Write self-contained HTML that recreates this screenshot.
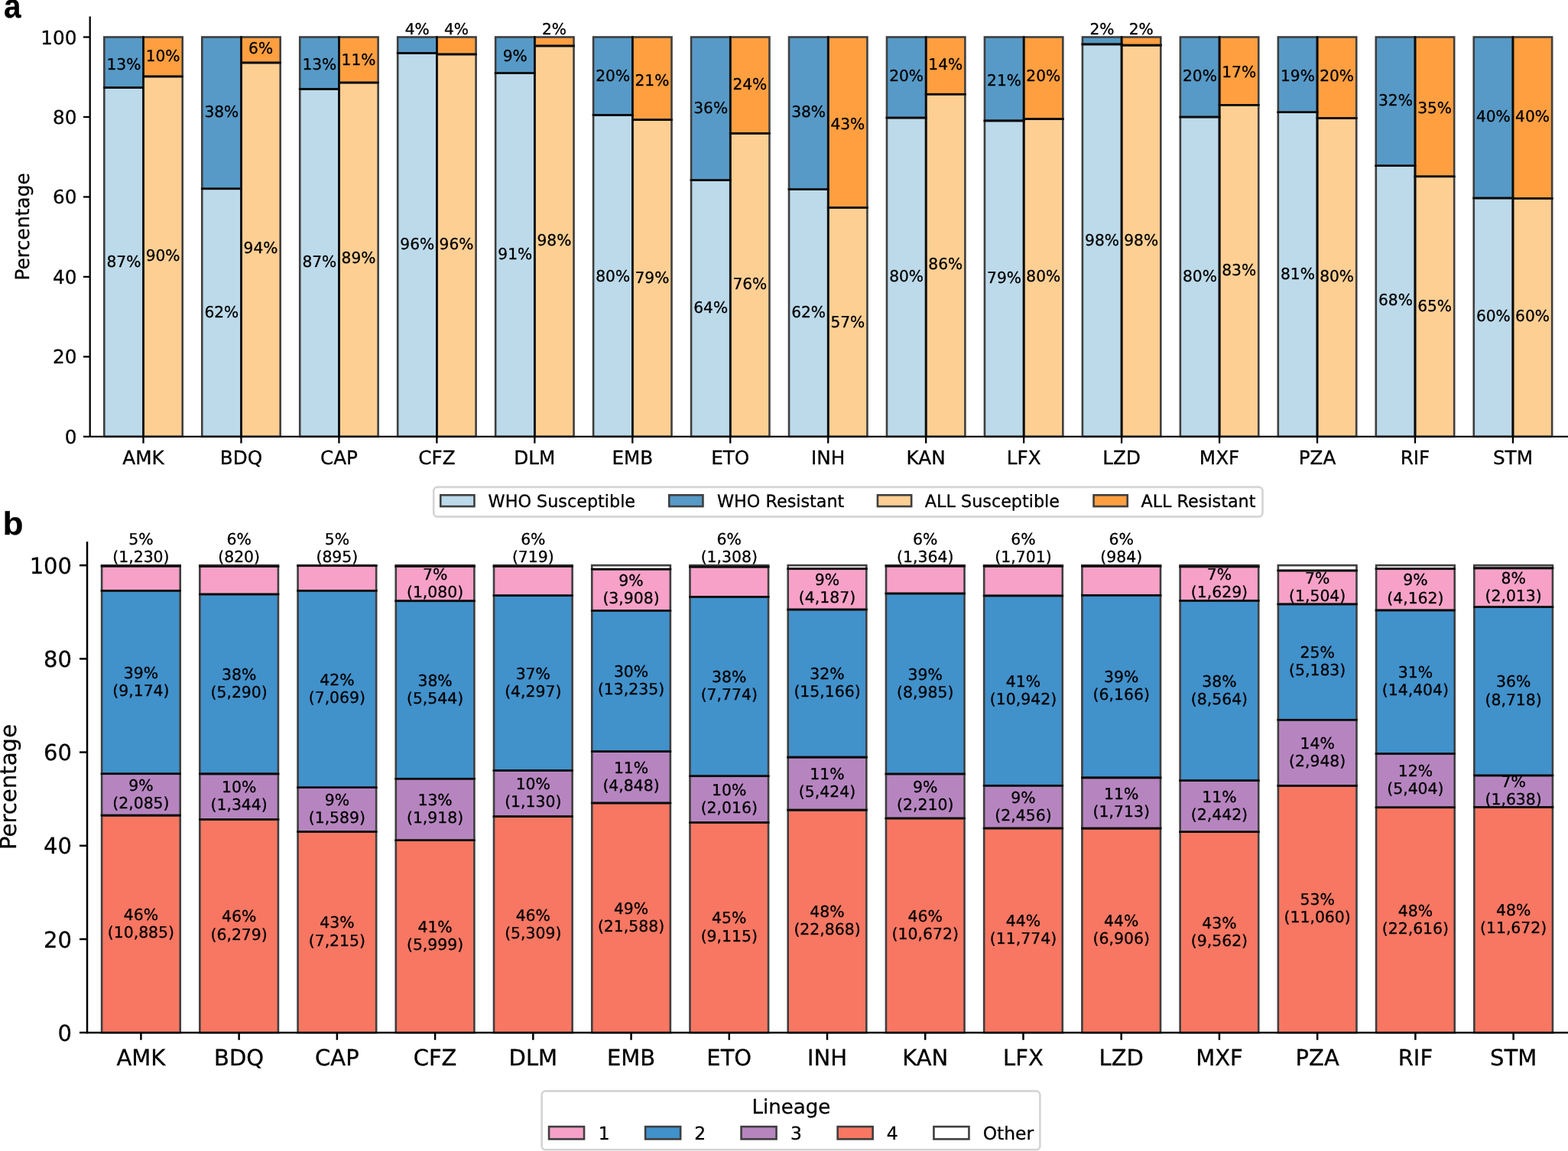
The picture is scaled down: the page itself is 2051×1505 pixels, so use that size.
<!DOCTYPE html>
<html><head><meta charset="utf-8"><title>Figure</title>
<style>html,body{margin:0;padding:0;background:#fff;width:2051px;height:1505px;overflow:hidden}svg{display:block}text{font-family:'DejaVu Sans','Liberation Sans',sans-serif;text-rendering:geometricPrecision;stroke:#000;stroke-width:0.3px}</style>
</head><body><svg xmlns="http://www.w3.org/2000/svg" width="2051" height="1505" viewBox="0 0 2051 1505"><g><rect x="136.3" y="114.58" width="51.2" height="456.32" fill="#bcdaea"/><rect x="136.3" y="48.5" width="51.2" height="66.08" fill="#579ac7"/><rect x="187.5" y="99.96" width="51.2" height="470.94" fill="#fecf93"/><rect x="187.5" y="48.5" width="51.2" height="51.46" fill="#ff9f40"/><rect x="264.26" y="246.8" width="51.2" height="324.1" fill="#bcdaea"/><rect x="264.26" y="48.5" width="51.2" height="198.3" fill="#579ac7"/><rect x="315.46" y="81.99" width="51.2" height="488.91" fill="#fecf93"/><rect x="315.46" y="48.5" width="51.2" height="33.49" fill="#ff9f40"/><rect x="392.22" y="116.41" width="51.2" height="454.49" fill="#bcdaea"/><rect x="392.22" y="48.5" width="51.2" height="67.91" fill="#579ac7"/><rect x="443.42" y="108.05" width="51.2" height="462.85" fill="#fecf93"/><rect x="443.42" y="48.5" width="51.2" height="59.55" fill="#ff9f40"/><rect x="520.18" y="69.4" width="51.2" height="501.5" fill="#bcdaea"/><rect x="520.18" y="48.5" width="51.2" height="20.9" fill="#579ac7"/><rect x="571.38" y="70.96" width="51.2" height="499.94" fill="#fecf93"/><rect x="571.38" y="48.5" width="51.2" height="22.46" fill="#ff9f40"/><rect x="648.14" y="95.52" width="51.2" height="475.38" fill="#bcdaea"/><rect x="648.14" y="48.5" width="51.2" height="47.02" fill="#579ac7"/><rect x="699.34" y="59.99" width="51.2" height="510.91" fill="#fecf93"/><rect x="699.34" y="48.5" width="51.2" height="11.49" fill="#ff9f40"/><rect x="776.1" y="150.37" width="51.2" height="420.53" fill="#bcdaea"/><rect x="776.1" y="48.5" width="51.2" height="101.87" fill="#579ac7"/><rect x="827.3" y="156.64" width="51.2" height="414.26" fill="#fecf93"/><rect x="827.3" y="48.5" width="51.2" height="108.14" fill="#ff9f40"/><rect x="904.06" y="235.52" width="51.2" height="335.38" fill="#bcdaea"/><rect x="904.06" y="48.5" width="51.2" height="187.02" fill="#579ac7"/><rect x="955.26" y="174.4" width="51.2" height="396.5" fill="#fecf93"/><rect x="955.26" y="48.5" width="51.2" height="125.9" fill="#ff9f40"/><rect x="1032.02" y="247.53" width="51.2" height="323.37" fill="#bcdaea"/><rect x="1032.02" y="48.5" width="51.2" height="199.03" fill="#579ac7"/><rect x="1083.22" y="271.56" width="51.2" height="299.34" fill="#fecf93"/><rect x="1083.22" y="48.5" width="51.2" height="223.06" fill="#ff9f40"/><rect x="1159.98" y="154.02" width="51.2" height="416.88" fill="#bcdaea"/><rect x="1159.98" y="48.5" width="51.2" height="105.52" fill="#579ac7"/><rect x="1211.18" y="123.2" width="51.2" height="447.7" fill="#fecf93"/><rect x="1211.18" y="48.5" width="51.2" height="74.7" fill="#ff9f40"/><rect x="1287.94" y="157.89" width="51.2" height="413.01" fill="#bcdaea"/><rect x="1287.94" y="48.5" width="51.2" height="109.39" fill="#579ac7"/><rect x="1339.14" y="155.59" width="51.2" height="415.31" fill="#fecf93"/><rect x="1339.14" y="48.5" width="51.2" height="107.09" fill="#ff9f40"/><rect x="1415.9" y="57.9" width="51.2" height="513" fill="#bcdaea"/><rect x="1415.9" y="48.5" width="51.2" height="9.4" fill="#579ac7"/><rect x="1467.1" y="59.16" width="51.2" height="511.74" fill="#fecf93"/><rect x="1467.1" y="48.5" width="51.2" height="10.66" fill="#ff9f40"/><rect x="1543.86" y="152.98" width="51.2" height="417.92" fill="#bcdaea"/><rect x="1543.86" y="48.5" width="51.2" height="104.48" fill="#579ac7"/><rect x="1595.06" y="137.31" width="51.2" height="433.59" fill="#fecf93"/><rect x="1595.06" y="48.5" width="51.2" height="88.81" fill="#ff9f40"/><rect x="1671.82" y="146.71" width="51.2" height="424.19" fill="#bcdaea"/><rect x="1671.82" y="48.5" width="51.2" height="98.21" fill="#579ac7"/><rect x="1723.02" y="154.55" width="51.2" height="416.35" fill="#fecf93"/><rect x="1723.02" y="48.5" width="51.2" height="106.05" fill="#ff9f40"/><rect x="1799.78" y="216.71" width="51.2" height="354.19" fill="#bcdaea"/><rect x="1799.78" y="48.5" width="51.2" height="168.21" fill="#579ac7"/><rect x="1850.98" y="230.82" width="51.2" height="340.08" fill="#fecf93"/><rect x="1850.98" y="48.5" width="51.2" height="182.32" fill="#ff9f40"/><rect x="1927.74" y="259.03" width="51.2" height="311.87" fill="#bcdaea"/><rect x="1927.74" y="48.5" width="51.2" height="210.53" fill="#579ac7"/><rect x="1978.94" y="259.55" width="51.2" height="311.35" fill="#fecf93"/><rect x="1978.94" y="48.5" width="51.2" height="211.05" fill="#ff9f40"/></g><g fill="none" stroke="#3f3f3f" stroke-width="2.6"><rect x="136.3" y="114.58" width="51.2" height="456.32"/><rect x="136.3" y="48.5" width="51.2" height="66.08"/><rect x="187.5" y="99.96" width="51.2" height="470.94"/><rect x="187.5" y="48.5" width="51.2" height="51.46"/><rect x="264.26" y="246.8" width="51.2" height="324.1"/><rect x="264.26" y="48.5" width="51.2" height="198.3"/><rect x="315.46" y="81.99" width="51.2" height="488.91"/><rect x="315.46" y="48.5" width="51.2" height="33.49"/><rect x="392.22" y="116.41" width="51.2" height="454.49"/><rect x="392.22" y="48.5" width="51.2" height="67.91"/><rect x="443.42" y="108.05" width="51.2" height="462.85"/><rect x="443.42" y="48.5" width="51.2" height="59.55"/><rect x="520.18" y="69.4" width="51.2" height="501.5"/><rect x="520.18" y="48.5" width="51.2" height="20.9"/><rect x="571.38" y="70.96" width="51.2" height="499.94"/><rect x="571.38" y="48.5" width="51.2" height="22.46"/><rect x="648.14" y="95.52" width="51.2" height="475.38"/><rect x="648.14" y="48.5" width="51.2" height="47.02"/><rect x="699.34" y="59.99" width="51.2" height="510.91"/><rect x="699.34" y="48.5" width="51.2" height="11.49"/><rect x="776.1" y="150.37" width="51.2" height="420.53"/><rect x="776.1" y="48.5" width="51.2" height="101.87"/><rect x="827.3" y="156.64" width="51.2" height="414.26"/><rect x="827.3" y="48.5" width="51.2" height="108.14"/><rect x="904.06" y="235.52" width="51.2" height="335.38"/><rect x="904.06" y="48.5" width="51.2" height="187.02"/><rect x="955.26" y="174.4" width="51.2" height="396.5"/><rect x="955.26" y="48.5" width="51.2" height="125.9"/><rect x="1032.02" y="247.53" width="51.2" height="323.37"/><rect x="1032.02" y="48.5" width="51.2" height="199.03"/><rect x="1083.22" y="271.56" width="51.2" height="299.34"/><rect x="1083.22" y="48.5" width="51.2" height="223.06"/><rect x="1159.98" y="154.02" width="51.2" height="416.88"/><rect x="1159.98" y="48.5" width="51.2" height="105.52"/><rect x="1211.18" y="123.2" width="51.2" height="447.7"/><rect x="1211.18" y="48.5" width="51.2" height="74.7"/><rect x="1287.94" y="157.89" width="51.2" height="413.01"/><rect x="1287.94" y="48.5" width="51.2" height="109.39"/><rect x="1339.14" y="155.59" width="51.2" height="415.31"/><rect x="1339.14" y="48.5" width="51.2" height="107.09"/><rect x="1415.9" y="57.9" width="51.2" height="513"/><rect x="1415.9" y="48.5" width="51.2" height="9.4"/><rect x="1467.1" y="59.16" width="51.2" height="511.74"/><rect x="1467.1" y="48.5" width="51.2" height="10.66"/><rect x="1543.86" y="152.98" width="51.2" height="417.92"/><rect x="1543.86" y="48.5" width="51.2" height="104.48"/><rect x="1595.06" y="137.31" width="51.2" height="433.59"/><rect x="1595.06" y="48.5" width="51.2" height="88.81"/><rect x="1671.82" y="146.71" width="51.2" height="424.19"/><rect x="1671.82" y="48.5" width="51.2" height="98.21"/><rect x="1723.02" y="154.55" width="51.2" height="416.35"/><rect x="1723.02" y="48.5" width="51.2" height="106.05"/><rect x="1799.78" y="216.71" width="51.2" height="354.19"/><rect x="1799.78" y="48.5" width="51.2" height="168.21"/><rect x="1850.98" y="230.82" width="51.2" height="340.08"/><rect x="1850.98" y="48.5" width="51.2" height="182.32"/><rect x="1927.74" y="259.03" width="51.2" height="311.87"/><rect x="1927.74" y="48.5" width="51.2" height="210.53"/><rect x="1978.94" y="259.55" width="51.2" height="311.35"/><rect x="1978.94" y="48.5" width="51.2" height="211.05"/></g><g stroke="#0b0b0b" stroke-width="2.6" stroke-linecap="square"><line x1="187.5" y1="48.5" x2="187.5" y2="570.9"/><line x1="136.3" y1="114.58" x2="187.5" y2="114.58"/><line x1="187.5" y1="99.96" x2="238.7" y2="99.96"/><line x1="315.46" y1="48.5" x2="315.46" y2="570.9"/><line x1="264.26" y1="246.8" x2="315.46" y2="246.8"/><line x1="315.46" y1="81.99" x2="366.66" y2="81.99"/><line x1="443.42" y1="48.5" x2="443.42" y2="570.9"/><line x1="392.22" y1="116.41" x2="443.42" y2="116.41"/><line x1="443.42" y1="108.05" x2="494.62" y2="108.05"/><line x1="571.38" y1="48.5" x2="571.38" y2="570.9"/><line x1="520.18" y1="69.4" x2="571.38" y2="69.4"/><line x1="571.38" y1="70.96" x2="622.58" y2="70.96"/><line x1="699.34" y1="48.5" x2="699.34" y2="570.9"/><line x1="648.14" y1="95.52" x2="699.34" y2="95.52"/><line x1="699.34" y1="59.99" x2="750.54" y2="59.99"/><line x1="827.3" y1="48.5" x2="827.3" y2="570.9"/><line x1="776.1" y1="150.37" x2="827.3" y2="150.37"/><line x1="827.3" y1="156.64" x2="878.5" y2="156.64"/><line x1="955.26" y1="48.5" x2="955.26" y2="570.9"/><line x1="904.06" y1="235.52" x2="955.26" y2="235.52"/><line x1="955.26" y1="174.4" x2="1006.46" y2="174.4"/><line x1="1083.22" y1="48.5" x2="1083.22" y2="570.9"/><line x1="1032.02" y1="247.53" x2="1083.22" y2="247.53"/><line x1="1083.22" y1="271.56" x2="1134.42" y2="271.56"/><line x1="1211.18" y1="48.5" x2="1211.18" y2="570.9"/><line x1="1159.98" y1="154.02" x2="1211.18" y2="154.02"/><line x1="1211.18" y1="123.2" x2="1262.38" y2="123.2"/><line x1="1339.14" y1="48.5" x2="1339.14" y2="570.9"/><line x1="1287.94" y1="157.89" x2="1339.14" y2="157.89"/><line x1="1339.14" y1="155.59" x2="1390.34" y2="155.59"/><line x1="1467.1" y1="48.5" x2="1467.1" y2="570.9"/><line x1="1415.9" y1="57.9" x2="1467.1" y2="57.9"/><line x1="1467.1" y1="59.16" x2="1518.3" y2="59.16"/><line x1="1595.06" y1="48.5" x2="1595.06" y2="570.9"/><line x1="1543.86" y1="152.98" x2="1595.06" y2="152.98"/><line x1="1595.06" y1="137.31" x2="1646.26" y2="137.31"/><line x1="1723.02" y1="48.5" x2="1723.02" y2="570.9"/><line x1="1671.82" y1="146.71" x2="1723.02" y2="146.71"/><line x1="1723.02" y1="154.55" x2="1774.22" y2="154.55"/><line x1="1850.98" y1="48.5" x2="1850.98" y2="570.9"/><line x1="1799.78" y1="216.71" x2="1850.98" y2="216.71"/><line x1="1850.98" y1="230.82" x2="1902.18" y2="230.82"/><line x1="1978.94" y1="48.5" x2="1978.94" y2="570.9"/><line x1="1927.74" y1="259.03" x2="1978.94" y2="259.03"/><line x1="1978.94" y1="259.55" x2="2030.14" y2="259.55"/></g><g font-family="'DejaVu Sans','Liberation Sans',sans-serif" fill="#000"><text x="161.9" y="349.26" font-size="20.2" text-anchor="middle">87%</text><text x="161.9" y="90.67" font-size="20.2" text-anchor="middle">13%</text><text x="213.1" y="341.42" font-size="20.2" text-anchor="middle">90%</text><text x="213.1" y="80.22" font-size="20.2" text-anchor="middle">10%</text><text x="289.86" y="414.56" font-size="20.2" text-anchor="middle">62%</text><text x="289.86" y="153.36" font-size="20.2" text-anchor="middle">38%</text><text x="341.06" y="330.97" font-size="20.2" text-anchor="middle">94%</text><text x="341.06" y="69.77" font-size="20.2" text-anchor="middle">6%</text><text x="417.82" y="349.26" font-size="20.2" text-anchor="middle">87%</text><text x="417.82" y="90.67" font-size="20.2" text-anchor="middle">13%</text><text x="469.02" y="344.03" font-size="20.2" text-anchor="middle">89%</text><text x="469.02" y="85.44" font-size="20.2" text-anchor="middle">11%</text><text x="545.78" y="325.75" font-size="20.2" text-anchor="middle">96%</text><text x="545.78" y="44.6" font-size="20.2" text-anchor="middle">4%</text><text x="596.98" y="325.75" font-size="20.2" text-anchor="middle">96%</text><text x="596.98" y="44.6" font-size="20.2" text-anchor="middle">4%</text><text x="673.74" y="338.81" font-size="20.2" text-anchor="middle">91%</text><text x="673.74" y="80.22" font-size="20.2" text-anchor="middle">9%</text><text x="724.94" y="320.52" font-size="20.2" text-anchor="middle">98%</text><text x="724.94" y="44.6" font-size="20.2" text-anchor="middle">2%</text><text x="801.7" y="367.54" font-size="20.2" text-anchor="middle">80%</text><text x="801.7" y="106.34" font-size="20.2" text-anchor="middle">20%</text><text x="852.9" y="370.15" font-size="20.2" text-anchor="middle">79%</text><text x="852.9" y="111.56" font-size="20.2" text-anchor="middle">21%</text><text x="929.66" y="409.33" font-size="20.2" text-anchor="middle">64%</text><text x="929.66" y="148.13" font-size="20.2" text-anchor="middle">36%</text><text x="980.86" y="377.99" font-size="20.2" text-anchor="middle">76%</text><text x="980.86" y="116.79" font-size="20.2" text-anchor="middle">24%</text><text x="1057.62" y="414.56" font-size="20.2" text-anchor="middle">62%</text><text x="1057.62" y="153.36" font-size="20.2" text-anchor="middle">38%</text><text x="1108.82" y="427.62" font-size="20.2" text-anchor="middle">57%</text><text x="1108.82" y="169.03" font-size="20.2" text-anchor="middle">43%</text><text x="1185.58" y="367.54" font-size="20.2" text-anchor="middle">80%</text><text x="1185.58" y="106.34" font-size="20.2" text-anchor="middle">20%</text><text x="1236.78" y="351.87" font-size="20.2" text-anchor="middle">86%</text><text x="1236.78" y="90.67" font-size="20.2" text-anchor="middle">14%</text><text x="1313.54" y="370.15" font-size="20.2" text-anchor="middle">79%</text><text x="1313.54" y="111.56" font-size="20.2" text-anchor="middle">21%</text><text x="1364.74" y="367.54" font-size="20.2" text-anchor="middle">80%</text><text x="1364.74" y="106.34" font-size="20.2" text-anchor="middle">20%</text><text x="1441.5" y="320.52" font-size="20.2" text-anchor="middle">98%</text><text x="1441.5" y="44.6" font-size="20.2" text-anchor="middle">2%</text><text x="1492.7" y="320.52" font-size="20.2" text-anchor="middle">98%</text><text x="1492.7" y="44.6" font-size="20.2" text-anchor="middle">2%</text><text x="1569.46" y="367.54" font-size="20.2" text-anchor="middle">80%</text><text x="1569.46" y="106.34" font-size="20.2" text-anchor="middle">20%</text><text x="1620.66" y="359.7" font-size="20.2" text-anchor="middle">83%</text><text x="1620.66" y="101.12" font-size="20.2" text-anchor="middle">17%</text><text x="1697.42" y="364.93" font-size="20.2" text-anchor="middle">81%</text><text x="1697.42" y="106.34" font-size="20.2" text-anchor="middle">19%</text><text x="1748.62" y="367.54" font-size="20.2" text-anchor="middle">80%</text><text x="1748.62" y="106.34" font-size="20.2" text-anchor="middle">20%</text><text x="1825.38" y="398.88" font-size="20.2" text-anchor="middle">68%</text><text x="1825.38" y="137.68" font-size="20.2" text-anchor="middle">32%</text><text x="1876.58" y="406.72" font-size="20.2" text-anchor="middle">65%</text><text x="1876.58" y="148.13" font-size="20.2" text-anchor="middle">35%</text><text x="1953.34" y="419.78" font-size="20.2" text-anchor="middle">60%</text><text x="1953.34" y="158.58" font-size="20.2" text-anchor="middle">40%</text><text x="2004.54" y="419.78" font-size="20.2" text-anchor="middle">60%</text><text x="2004.54" y="158.58" font-size="20.2" text-anchor="middle">40%</text></g><g font-family="'DejaVu Sans','Liberation Sans',sans-serif" fill="#000"><line x1="117.7" y1="21.5" x2="117.7" y2="571.9" stroke="#000" stroke-width="2.3"/><line x1="116.7" y1="570.9" x2="2051" y2="570.9" stroke="#000" stroke-width="2.3"/><line x1="108.95" y1="570.9" x2="117.7" y2="570.9" stroke="#000" stroke-width="2.3"/><text x="100.4" y="579.9" font-size="24.7" text-anchor="end">0</text><line x1="108.95" y1="466.42" x2="117.7" y2="466.42" stroke="#000" stroke-width="2.3"/><text x="100.4" y="475.42" font-size="24.7" text-anchor="end">20</text><line x1="108.95" y1="361.94" x2="117.7" y2="361.94" stroke="#000" stroke-width="2.3"/><text x="100.4" y="370.94" font-size="24.7" text-anchor="end">40</text><line x1="108.95" y1="257.46" x2="117.7" y2="257.46" stroke="#000" stroke-width="2.3"/><text x="100.4" y="266.46" font-size="24.7" text-anchor="end">60</text><line x1="108.95" y1="152.98" x2="117.7" y2="152.98" stroke="#000" stroke-width="2.3"/><text x="100.4" y="161.98" font-size="24.7" text-anchor="end">80</text><line x1="108.95" y1="48.5" x2="117.7" y2="48.5" stroke="#000" stroke-width="2.3"/><text x="100.4" y="57.5" font-size="24.7" text-anchor="end">100</text><line x1="187.5" y1="570.9" x2="187.5" y2="579.65" stroke="#000" stroke-width="2.3"/><text x="187.5" y="606.8" font-size="24.7" text-anchor="middle">AMK</text><line x1="315.46" y1="570.9" x2="315.46" y2="579.65" stroke="#000" stroke-width="2.3"/><text x="315.46" y="606.8" font-size="24.7" text-anchor="middle">BDQ</text><line x1="443.42" y1="570.9" x2="443.42" y2="579.65" stroke="#000" stroke-width="2.3"/><text x="443.42" y="606.8" font-size="24.7" text-anchor="middle">CAP</text><line x1="571.38" y1="570.9" x2="571.38" y2="579.65" stroke="#000" stroke-width="2.3"/><text x="571.38" y="606.8" font-size="24.7" text-anchor="middle">CFZ</text><line x1="699.34" y1="570.9" x2="699.34" y2="579.65" stroke="#000" stroke-width="2.3"/><text x="699.34" y="606.8" font-size="24.7" text-anchor="middle">DLM</text><line x1="827.3" y1="570.9" x2="827.3" y2="579.65" stroke="#000" stroke-width="2.3"/><text x="827.3" y="606.8" font-size="24.7" text-anchor="middle">EMB</text><line x1="955.26" y1="570.9" x2="955.26" y2="579.65" stroke="#000" stroke-width="2.3"/><text x="955.26" y="606.8" font-size="24.7" text-anchor="middle">ETO</text><line x1="1083.22" y1="570.9" x2="1083.22" y2="579.65" stroke="#000" stroke-width="2.3"/><text x="1083.22" y="606.8" font-size="24.7" text-anchor="middle">INH</text><line x1="1211.18" y1="570.9" x2="1211.18" y2="579.65" stroke="#000" stroke-width="2.3"/><text x="1211.18" y="606.8" font-size="24.7" text-anchor="middle">KAN</text><line x1="1339.14" y1="570.9" x2="1339.14" y2="579.65" stroke="#000" stroke-width="2.3"/><text x="1339.14" y="606.8" font-size="24.7" text-anchor="middle">LFX</text><line x1="1467.1" y1="570.9" x2="1467.1" y2="579.65" stroke="#000" stroke-width="2.3"/><text x="1467.1" y="606.8" font-size="24.7" text-anchor="middle">LZD</text><line x1="1595.06" y1="570.9" x2="1595.06" y2="579.65" stroke="#000" stroke-width="2.3"/><text x="1595.06" y="606.8" font-size="24.7" text-anchor="middle">MXF</text><line x1="1723.02" y1="570.9" x2="1723.02" y2="579.65" stroke="#000" stroke-width="2.3"/><text x="1723.02" y="606.8" font-size="24.7" text-anchor="middle">PZA</text><line x1="1850.98" y1="570.9" x2="1850.98" y2="579.65" stroke="#000" stroke-width="2.3"/><text x="1850.98" y="606.8" font-size="24.7" text-anchor="middle">RIF</text><line x1="1978.94" y1="570.9" x2="1978.94" y2="579.65" stroke="#000" stroke-width="2.3"/><text x="1978.94" y="606.8" font-size="24.7" text-anchor="middle">STM</text><text transform="translate(37.8,296.4) rotate(-90)" font-size="25" text-anchor="middle">Percentage</text><text transform="translate(4.99,23.3) scale(0.915,1)" font-size="44.2" font-weight="bold" style="font-family:'Liberation Sans',Arial,sans-serif">a</text></g><g font-family="'DejaVu Sans','Liberation Sans',sans-serif" fill="#000"><rect x="567.2" y="636.9" width="1084.3" height="38.7" rx="5" ry="5" fill="#fff" fill-opacity="0.8" stroke="#d4d4d4" stroke-width="2.6"/><rect x="576.25" y="647.35" width="44.2" height="14.8" fill="#bcdaea" stroke="#3f3f3f" stroke-width="2.6"/><text x="638.6" y="662.8" font-size="22.3" text-anchor="start">WHO Susceptible</text><rect x="875.25" y="647.35" width="44.2" height="14.8" fill="#579ac7" stroke="#3f3f3f" stroke-width="2.6"/><text x="938" y="662.8" font-size="22.3" text-anchor="start">WHO Resistant</text><rect x="1147.95" y="647.35" width="44.2" height="14.8" fill="#fecf93" stroke="#3f3f3f" stroke-width="2.6"/><text x="1209.8" y="662.8" font-size="22.3" text-anchor="start">ALL Susceptible</text><rect x="1430.55" y="647.35" width="44.2" height="14.8" fill="#ff9f40" stroke="#3f3f3f" stroke-width="2.6"/><text x="1492.4" y="662.8" font-size="22.3" text-anchor="start">ALL Resistant</text></g><g><rect x="133.1" y="1066.16" width="102.6" height="284.04" fill="#f87762"/><rect x="133.1" y="1011.76" width="102.6" height="54.41" fill="#b685c0"/><rect x="133.1" y="772.37" width="102.6" height="239.39" fill="#4191cb"/><rect x="133.1" y="740.27" width="102.6" height="32.1" fill="#f7a1c8"/><rect x="133.1" y="739.2" width="102.6" height="1.07" fill="#ffffff"/><rect x="261.33" y="1071.51" width="102.6" height="278.69" fill="#f87762"/><rect x="261.33" y="1011.86" width="102.6" height="59.65" fill="#b685c0"/><rect x="261.33" y="777.06" width="102.6" height="234.8" fill="#4191cb"/><rect x="261.33" y="740.66" width="102.6" height="36.4" fill="#f7a1c8"/><rect x="261.33" y="739.2" width="102.6" height="1.46" fill="#ffffff"/><rect x="389.56" y="1087.55" width="102.6" height="262.65" fill="#f87762"/><rect x="389.56" y="1029.7" width="102.6" height="57.85" fill="#b685c0"/><rect x="389.56" y="772.36" width="102.6" height="257.34" fill="#4191cb"/><rect x="389.56" y="739.78" width="102.6" height="32.58" fill="#f7a1c8"/><rect x="389.56" y="739.2" width="102.6" height="0.58" fill="#ffffff"/><rect x="517.79" y="1098.68" width="102.6" height="251.52" fill="#f87762"/><rect x="517.79" y="1018.27" width="102.6" height="80.42" fill="#b685c0"/><rect x="517.79" y="785.82" width="102.6" height="232.44" fill="#4191cb"/><rect x="517.79" y="740.54" width="102.6" height="45.28" fill="#f7a1c8"/><rect x="517.79" y="739.2" width="102.6" height="1.34" fill="#ffffff"/><rect x="646.02" y="1067.61" width="102.6" height="282.59" fill="#f87762"/><rect x="646.02" y="1007.47" width="102.6" height="60.15" fill="#b685c0"/><rect x="646.02" y="778.75" width="102.6" height="228.72" fill="#4191cb"/><rect x="646.02" y="740.48" width="102.6" height="38.27" fill="#f7a1c8"/><rect x="646.02" y="739.2" width="102.6" height="1.28" fill="#ffffff"/><rect x="774.25" y="1050.01" width="102.6" height="300.19" fill="#f87762"/><rect x="774.25" y="982.59" width="102.6" height="67.41" fill="#b685c0"/><rect x="774.25" y="798.55" width="102.6" height="184.04" fill="#4191cb"/><rect x="774.25" y="744.21" width="102.6" height="54.34" fill="#f7a1c8"/><rect x="774.25" y="739.2" width="102.6" height="5.01" fill="#ffffff"/><rect x="902.48" y="1075.53" width="102.6" height="274.67" fill="#f87762"/><rect x="902.48" y="1014.78" width="102.6" height="60.75" fill="#b685c0"/><rect x="902.48" y="780.51" width="102.6" height="234.26" fill="#4191cb"/><rect x="902.48" y="741.1" width="102.6" height="39.42" fill="#f7a1c8"/><rect x="902.48" y="739.2" width="102.6" height="1.9" fill="#ffffff"/><rect x="1030.71" y="1059.14" width="102.6" height="291.06" fill="#f87762"/><rect x="1030.71" y="990.1" width="102.6" height="69.04" fill="#b685c0"/><rect x="1030.71" y="797.07" width="102.6" height="193.03" fill="#4191cb"/><rect x="1030.71" y="743.78" width="102.6" height="53.29" fill="#f7a1c8"/><rect x="1030.71" y="739.2" width="102.6" height="4.58" fill="#ffffff"/><rect x="1158.94" y="1070" width="102.6" height="280.2" fill="#f87762"/><rect x="1158.94" y="1011.97" width="102.6" height="58.03" fill="#b685c0"/><rect x="1158.94" y="776.06" width="102.6" height="235.91" fill="#4191cb"/><rect x="1158.94" y="740.25" width="102.6" height="35.81" fill="#f7a1c8"/><rect x="1158.94" y="739.2" width="102.6" height="1.05" fill="#ffffff"/><rect x="1287.17" y="1083" width="102.6" height="267.2" fill="#f87762"/><rect x="1287.17" y="1027.26" width="102.6" height="55.74" fill="#b685c0"/><rect x="1287.17" y="778.94" width="102.6" height="248.32" fill="#4191cb"/><rect x="1287.17" y="740.33" width="102.6" height="38.6" fill="#f7a1c8"/><rect x="1287.17" y="739.2" width="102.6" height="1.13" fill="#ffffff"/><rect x="1415.4" y="1083.12" width="102.6" height="267.08" fill="#f87762"/><rect x="1415.4" y="1016.87" width="102.6" height="66.25" fill="#b685c0"/><rect x="1415.4" y="778.41" width="102.6" height="238.46" fill="#4191cb"/><rect x="1415.4" y="740.36" width="102.6" height="38.05" fill="#f7a1c8"/><rect x="1415.4" y="739.2" width="102.6" height="1.16" fill="#ffffff"/><rect x="1543.63" y="1087.7" width="102.6" height="262.5" fill="#f87762"/><rect x="1543.63" y="1020.67" width="102.6" height="67.04" fill="#b685c0"/><rect x="1543.63" y="785.57" width="102.6" height="235.1" fill="#4191cb"/><rect x="1543.63" y="740.85" width="102.6" height="44.72" fill="#f7a1c8"/><rect x="1543.63" y="739.2" width="102.6" height="1.65" fill="#ffffff"/><rect x="1671.86" y="1027.33" width="102.6" height="322.87" fill="#f87762"/><rect x="1671.86" y="941.27" width="102.6" height="86.06" fill="#b685c0"/><rect x="1671.86" y="789.97" width="102.6" height="151.3" fill="#4191cb"/><rect x="1671.86" y="746.06" width="102.6" height="43.91" fill="#f7a1c8"/><rect x="1671.86" y="739.2" width="102.6" height="6.86" fill="#ffffff"/><rect x="1800.09" y="1055.8" width="102.6" height="294.4" fill="#f87762"/><rect x="1800.09" y="985.46" width="102.6" height="70.34" fill="#b685c0"/><rect x="1800.09" y="797.96" width="102.6" height="187.5" fill="#4191cb"/><rect x="1800.09" y="743.78" width="102.6" height="54.18" fill="#f7a1c8"/><rect x="1800.09" y="739.2" width="102.6" height="4.58" fill="#ffffff"/><rect x="1928.32" y="1055.34" width="102.6" height="294.86" fill="#f87762"/><rect x="1928.32" y="1013.96" width="102.6" height="41.38" fill="#b685c0"/><rect x="1928.32" y="793.72" width="102.6" height="220.24" fill="#4191cb"/><rect x="1928.32" y="742.86" width="102.6" height="50.85" fill="#f7a1c8"/><rect x="1928.32" y="739.2" width="102.6" height="3.66" fill="#ffffff"/></g><g fill="none" stroke="#3f3f3f" stroke-width="2.6"><rect x="133.1" y="1066.16" width="102.6" height="284.04"/><rect x="133.1" y="1011.76" width="102.6" height="54.41"/><rect x="133.1" y="772.37" width="102.6" height="239.39"/><rect x="133.1" y="740.27" width="102.6" height="32.1"/><rect x="133.1" y="739.2" width="102.6" height="1.07"/><rect x="261.33" y="1071.51" width="102.6" height="278.69"/><rect x="261.33" y="1011.86" width="102.6" height="59.65"/><rect x="261.33" y="777.06" width="102.6" height="234.8"/><rect x="261.33" y="740.66" width="102.6" height="36.4"/><rect x="261.33" y="739.2" width="102.6" height="1.46"/><rect x="389.56" y="1087.55" width="102.6" height="262.65"/><rect x="389.56" y="1029.7" width="102.6" height="57.85"/><rect x="389.56" y="772.36" width="102.6" height="257.34"/><rect x="389.56" y="739.78" width="102.6" height="32.58"/><rect x="389.56" y="739.2" width="102.6" height="0.58"/><rect x="517.79" y="1098.68" width="102.6" height="251.52"/><rect x="517.79" y="1018.27" width="102.6" height="80.42"/><rect x="517.79" y="785.82" width="102.6" height="232.44"/><rect x="517.79" y="740.54" width="102.6" height="45.28"/><rect x="517.79" y="739.2" width="102.6" height="1.34"/><rect x="646.02" y="1067.61" width="102.6" height="282.59"/><rect x="646.02" y="1007.47" width="102.6" height="60.15"/><rect x="646.02" y="778.75" width="102.6" height="228.72"/><rect x="646.02" y="740.48" width="102.6" height="38.27"/><rect x="646.02" y="739.2" width="102.6" height="1.28"/><rect x="774.25" y="1050.01" width="102.6" height="300.19"/><rect x="774.25" y="982.59" width="102.6" height="67.41"/><rect x="774.25" y="798.55" width="102.6" height="184.04"/><rect x="774.25" y="744.21" width="102.6" height="54.34"/><rect x="774.25" y="739.2" width="102.6" height="5.01"/><rect x="902.48" y="1075.53" width="102.6" height="274.67"/><rect x="902.48" y="1014.78" width="102.6" height="60.75"/><rect x="902.48" y="780.51" width="102.6" height="234.26"/><rect x="902.48" y="741.1" width="102.6" height="39.42"/><rect x="902.48" y="739.2" width="102.6" height="1.9"/><rect x="1030.71" y="1059.14" width="102.6" height="291.06"/><rect x="1030.71" y="990.1" width="102.6" height="69.04"/><rect x="1030.71" y="797.07" width="102.6" height="193.03"/><rect x="1030.71" y="743.78" width="102.6" height="53.29"/><rect x="1030.71" y="739.2" width="102.6" height="4.58"/><rect x="1158.94" y="1070" width="102.6" height="280.2"/><rect x="1158.94" y="1011.97" width="102.6" height="58.03"/><rect x="1158.94" y="776.06" width="102.6" height="235.91"/><rect x="1158.94" y="740.25" width="102.6" height="35.81"/><rect x="1158.94" y="739.2" width="102.6" height="1.05"/><rect x="1287.17" y="1083" width="102.6" height="267.2"/><rect x="1287.17" y="1027.26" width="102.6" height="55.74"/><rect x="1287.17" y="778.94" width="102.6" height="248.32"/><rect x="1287.17" y="740.33" width="102.6" height="38.6"/><rect x="1287.17" y="739.2" width="102.6" height="1.13"/><rect x="1415.4" y="1083.12" width="102.6" height="267.08"/><rect x="1415.4" y="1016.87" width="102.6" height="66.25"/><rect x="1415.4" y="778.41" width="102.6" height="238.46"/><rect x="1415.4" y="740.36" width="102.6" height="38.05"/><rect x="1415.4" y="739.2" width="102.6" height="1.16"/><rect x="1543.63" y="1087.7" width="102.6" height="262.5"/><rect x="1543.63" y="1020.67" width="102.6" height="67.04"/><rect x="1543.63" y="785.57" width="102.6" height="235.1"/><rect x="1543.63" y="740.85" width="102.6" height="44.72"/><rect x="1543.63" y="739.2" width="102.6" height="1.65"/><rect x="1671.86" y="1027.33" width="102.6" height="322.87"/><rect x="1671.86" y="941.27" width="102.6" height="86.06"/><rect x="1671.86" y="789.97" width="102.6" height="151.3"/><rect x="1671.86" y="746.06" width="102.6" height="43.91"/><rect x="1671.86" y="739.2" width="102.6" height="6.86"/><rect x="1800.09" y="1055.8" width="102.6" height="294.4"/><rect x="1800.09" y="985.46" width="102.6" height="70.34"/><rect x="1800.09" y="797.96" width="102.6" height="187.5"/><rect x="1800.09" y="743.78" width="102.6" height="54.18"/><rect x="1800.09" y="739.2" width="102.6" height="4.58"/><rect x="1928.32" y="1055.34" width="102.6" height="294.86"/><rect x="1928.32" y="1013.96" width="102.6" height="41.38"/><rect x="1928.32" y="793.72" width="102.6" height="220.24"/><rect x="1928.32" y="742.86" width="102.6" height="50.85"/><rect x="1928.32" y="739.2" width="102.6" height="3.66"/></g><g stroke="#0b0b0b" stroke-width="2.6" stroke-linecap="square"><line x1="133.1" y1="1066.16" x2="235.7" y2="1066.16"/><line x1="133.1" y1="1011.76" x2="235.7" y2="1011.76"/><line x1="133.1" y1="772.37" x2="235.7" y2="772.37"/><line x1="133.1" y1="740.27" x2="235.7" y2="740.27"/><line x1="261.33" y1="1071.51" x2="363.93" y2="1071.51"/><line x1="261.33" y1="1011.86" x2="363.93" y2="1011.86"/><line x1="261.33" y1="777.06" x2="363.93" y2="777.06"/><line x1="261.33" y1="740.66" x2="363.93" y2="740.66"/><line x1="389.56" y1="1087.55" x2="492.16" y2="1087.55"/><line x1="389.56" y1="1029.7" x2="492.16" y2="1029.7"/><line x1="389.56" y1="772.36" x2="492.16" y2="772.36"/><line x1="389.56" y1="739.78" x2="492.16" y2="739.78"/><line x1="517.79" y1="1098.68" x2="620.39" y2="1098.68"/><line x1="517.79" y1="1018.27" x2="620.39" y2="1018.27"/><line x1="517.79" y1="785.82" x2="620.39" y2="785.82"/><line x1="517.79" y1="740.54" x2="620.39" y2="740.54"/><line x1="646.02" y1="1067.61" x2="748.62" y2="1067.61"/><line x1="646.02" y1="1007.47" x2="748.62" y2="1007.47"/><line x1="646.02" y1="778.75" x2="748.62" y2="778.75"/><line x1="646.02" y1="740.48" x2="748.62" y2="740.48"/><line x1="774.25" y1="1050.01" x2="876.85" y2="1050.01"/><line x1="774.25" y1="982.59" x2="876.85" y2="982.59"/><line x1="774.25" y1="798.55" x2="876.85" y2="798.55"/><line x1="774.25" y1="744.21" x2="876.85" y2="744.21"/><line x1="902.48" y1="1075.53" x2="1005.08" y2="1075.53"/><line x1="902.48" y1="1014.78" x2="1005.08" y2="1014.78"/><line x1="902.48" y1="780.51" x2="1005.08" y2="780.51"/><line x1="902.48" y1="741.1" x2="1005.08" y2="741.1"/><line x1="1030.71" y1="1059.14" x2="1133.31" y2="1059.14"/><line x1="1030.71" y1="990.1" x2="1133.31" y2="990.1"/><line x1="1030.71" y1="797.07" x2="1133.31" y2="797.07"/><line x1="1030.71" y1="743.78" x2="1133.31" y2="743.78"/><line x1="1158.94" y1="1070" x2="1261.54" y2="1070"/><line x1="1158.94" y1="1011.97" x2="1261.54" y2="1011.97"/><line x1="1158.94" y1="776.06" x2="1261.54" y2="776.06"/><line x1="1158.94" y1="740.25" x2="1261.54" y2="740.25"/><line x1="1287.17" y1="1083" x2="1389.77" y2="1083"/><line x1="1287.17" y1="1027.26" x2="1389.77" y2="1027.26"/><line x1="1287.17" y1="778.94" x2="1389.77" y2="778.94"/><line x1="1287.17" y1="740.33" x2="1389.77" y2="740.33"/><line x1="1415.4" y1="1083.12" x2="1518" y2="1083.12"/><line x1="1415.4" y1="1016.87" x2="1518" y2="1016.87"/><line x1="1415.4" y1="778.41" x2="1518" y2="778.41"/><line x1="1415.4" y1="740.36" x2="1518" y2="740.36"/><line x1="1543.63" y1="1087.7" x2="1646.23" y2="1087.7"/><line x1="1543.63" y1="1020.67" x2="1646.23" y2="1020.67"/><line x1="1543.63" y1="785.57" x2="1646.23" y2="785.57"/><line x1="1543.63" y1="740.85" x2="1646.23" y2="740.85"/><line x1="1671.86" y1="1027.33" x2="1774.46" y2="1027.33"/><line x1="1671.86" y1="941.27" x2="1774.46" y2="941.27"/><line x1="1671.86" y1="789.97" x2="1774.46" y2="789.97"/><line x1="1671.86" y1="746.06" x2="1774.46" y2="746.06"/><line x1="1800.09" y1="1055.8" x2="1902.69" y2="1055.8"/><line x1="1800.09" y1="985.46" x2="1902.69" y2="985.46"/><line x1="1800.09" y1="797.96" x2="1902.69" y2="797.96"/><line x1="1800.09" y1="743.78" x2="1902.69" y2="743.78"/><line x1="1928.32" y1="1055.34" x2="2030.92" y2="1055.34"/><line x1="1928.32" y1="1013.96" x2="2030.92" y2="1013.96"/><line x1="1928.32" y1="793.72" x2="2030.92" y2="793.72"/><line x1="1928.32" y1="742.86" x2="2030.92" y2="742.86"/></g><g font-family="'DejaVu Sans','Liberation Sans',sans-serif" fill="#000"><text x="184.4" y="1202.78" font-size="20.4" text-anchor="middle">46%</text><text x="184.4" y="1225.88" font-size="20.4" text-anchor="middle">(10,885)</text><text x="184.4" y="1033.56" font-size="20.4" text-anchor="middle">9%</text><text x="184.4" y="1056.66" font-size="20.4" text-anchor="middle">(2,085)</text><text x="184.4" y="886.66" font-size="20.4" text-anchor="middle">39%</text><text x="184.4" y="909.76" font-size="20.4" text-anchor="middle">(9,174)</text><text x="184.4" y="712.3" font-size="20.4" text-anchor="middle">5%</text><text x="184.4" y="735.4" font-size="20.4" text-anchor="middle">(1,230)</text><text x="312.63" y="1205.45" font-size="20.4" text-anchor="middle">46%</text><text x="312.63" y="1228.55" font-size="20.4" text-anchor="middle">(6,279)</text><text x="312.63" y="1036.28" font-size="20.4" text-anchor="middle">10%</text><text x="312.63" y="1059.38" font-size="20.4" text-anchor="middle">(1,344)</text><text x="312.63" y="889.06" font-size="20.4" text-anchor="middle">38%</text><text x="312.63" y="912.16" font-size="20.4" text-anchor="middle">(5,290)</text><text x="312.63" y="712.3" font-size="20.4" text-anchor="middle">6%</text><text x="312.63" y="735.4" font-size="20.4" text-anchor="middle">(820)</text><text x="440.86" y="1213.47" font-size="20.4" text-anchor="middle">43%</text><text x="440.86" y="1236.57" font-size="20.4" text-anchor="middle">(7,215)</text><text x="440.86" y="1053.22" font-size="20.4" text-anchor="middle">9%</text><text x="440.86" y="1076.32" font-size="20.4" text-anchor="middle">(1,589)</text><text x="440.86" y="895.63" font-size="20.4" text-anchor="middle">42%</text><text x="440.86" y="918.73" font-size="20.4" text-anchor="middle">(7,069)</text><text x="440.86" y="712.3" font-size="20.4" text-anchor="middle">5%</text><text x="440.86" y="735.4" font-size="20.4" text-anchor="middle">(895)</text><text x="569.09" y="1219.04" font-size="20.4" text-anchor="middle">41%</text><text x="569.09" y="1242.14" font-size="20.4" text-anchor="middle">(5,999)</text><text x="569.09" y="1053.07" font-size="20.4" text-anchor="middle">13%</text><text x="569.09" y="1076.17" font-size="20.4" text-anchor="middle">(1,918)</text><text x="569.09" y="896.64" font-size="20.4" text-anchor="middle">38%</text><text x="569.09" y="919.74" font-size="20.4" text-anchor="middle">(5,544)</text><text x="569.09" y="757.78" font-size="20.4" text-anchor="middle">7%</text><text x="569.09" y="780.88" font-size="20.4" text-anchor="middle">(1,080)</text><text x="697.32" y="1203.51" font-size="20.4" text-anchor="middle">46%</text><text x="697.32" y="1226.61" font-size="20.4" text-anchor="middle">(5,309)</text><text x="697.32" y="1032.14" font-size="20.4" text-anchor="middle">10%</text><text x="697.32" y="1055.24" font-size="20.4" text-anchor="middle">(1,130)</text><text x="697.32" y="887.71" font-size="20.4" text-anchor="middle">37%</text><text x="697.32" y="910.81" font-size="20.4" text-anchor="middle">(4,297)</text><text x="697.32" y="712.3" font-size="20.4" text-anchor="middle">6%</text><text x="697.32" y="735.4" font-size="20.4" text-anchor="middle">(719)</text><text x="825.55" y="1194.7" font-size="20.4" text-anchor="middle">49%</text><text x="825.55" y="1217.8" font-size="20.4" text-anchor="middle">(21,588)</text><text x="825.55" y="1010.9" font-size="20.4" text-anchor="middle">11%</text><text x="825.55" y="1034" font-size="20.4" text-anchor="middle">(4,848)</text><text x="825.55" y="885.17" font-size="20.4" text-anchor="middle">30%</text><text x="825.55" y="908.27" font-size="20.4" text-anchor="middle">(13,235)</text><text x="825.55" y="765.98" font-size="20.4" text-anchor="middle">9%</text><text x="825.55" y="789.08" font-size="20.4" text-anchor="middle">(3,908)</text><text x="953.78" y="1207.46" font-size="20.4" text-anchor="middle">45%</text><text x="953.78" y="1230.56" font-size="20.4" text-anchor="middle">(9,115)</text><text x="953.78" y="1039.75" font-size="20.4" text-anchor="middle">10%</text><text x="953.78" y="1062.85" font-size="20.4" text-anchor="middle">(2,016)</text><text x="953.78" y="892.25" font-size="20.4" text-anchor="middle">38%</text><text x="953.78" y="915.35" font-size="20.4" text-anchor="middle">(7,774)</text><text x="953.78" y="712.3" font-size="20.4" text-anchor="middle">6%</text><text x="953.78" y="735.4" font-size="20.4" text-anchor="middle">(1,308)</text><text x="1082.01" y="1199.27" font-size="20.4" text-anchor="middle">48%</text><text x="1082.01" y="1222.37" font-size="20.4" text-anchor="middle">(22,868)</text><text x="1082.01" y="1019.22" font-size="20.4" text-anchor="middle">11%</text><text x="1082.01" y="1042.32" font-size="20.4" text-anchor="middle">(5,424)</text><text x="1082.01" y="888.19" font-size="20.4" text-anchor="middle">32%</text><text x="1082.01" y="911.29" font-size="20.4" text-anchor="middle">(15,166)</text><text x="1082.01" y="765.03" font-size="20.4" text-anchor="middle">9%</text><text x="1082.01" y="788.13" font-size="20.4" text-anchor="middle">(4,187)</text><text x="1210.24" y="1204.7" font-size="20.4" text-anchor="middle">46%</text><text x="1210.24" y="1227.8" font-size="20.4" text-anchor="middle">(10,672)</text><text x="1210.24" y="1035.58" font-size="20.4" text-anchor="middle">9%</text><text x="1210.24" y="1058.68" font-size="20.4" text-anchor="middle">(2,210)</text><text x="1210.24" y="888.62" font-size="20.4" text-anchor="middle">39%</text><text x="1210.24" y="911.72" font-size="20.4" text-anchor="middle">(8,985)</text><text x="1210.24" y="712.3" font-size="20.4" text-anchor="middle">6%</text><text x="1210.24" y="735.4" font-size="20.4" text-anchor="middle">(1,364)</text><text x="1338.47" y="1211.2" font-size="20.4" text-anchor="middle">44%</text><text x="1338.47" y="1234.3" font-size="20.4" text-anchor="middle">(11,774)</text><text x="1338.47" y="1049.73" font-size="20.4" text-anchor="middle">9%</text><text x="1338.47" y="1072.83" font-size="20.4" text-anchor="middle">(2,456)</text><text x="1338.47" y="897.7" font-size="20.4" text-anchor="middle">41%</text><text x="1338.47" y="920.8" font-size="20.4" text-anchor="middle">(10,942)</text><text x="1338.47" y="712.3" font-size="20.4" text-anchor="middle">6%</text><text x="1338.47" y="735.4" font-size="20.4" text-anchor="middle">(1,701)</text><text x="1466.7" y="1211.26" font-size="20.4" text-anchor="middle">44%</text><text x="1466.7" y="1234.36" font-size="20.4" text-anchor="middle">(6,906)</text><text x="1466.7" y="1044.6" font-size="20.4" text-anchor="middle">11%</text><text x="1466.7" y="1067.7" font-size="20.4" text-anchor="middle">(1,713)</text><text x="1466.7" y="892.24" font-size="20.4" text-anchor="middle">39%</text><text x="1466.7" y="915.34" font-size="20.4" text-anchor="middle">(6,166)</text><text x="1466.7" y="712.3" font-size="20.4" text-anchor="middle">6%</text><text x="1466.7" y="735.4" font-size="20.4" text-anchor="middle">(984)</text><text x="1594.93" y="1213.55" font-size="20.4" text-anchor="middle">43%</text><text x="1594.93" y="1236.65" font-size="20.4" text-anchor="middle">(9,562)</text><text x="1594.93" y="1048.78" font-size="20.4" text-anchor="middle">11%</text><text x="1594.93" y="1071.88" font-size="20.4" text-anchor="middle">(2,442)</text><text x="1594.93" y="897.72" font-size="20.4" text-anchor="middle">38%</text><text x="1594.93" y="920.82" font-size="20.4" text-anchor="middle">(8,564)</text><text x="1594.93" y="757.81" font-size="20.4" text-anchor="middle">7%</text><text x="1594.93" y="780.91" font-size="20.4" text-anchor="middle">(1,629)</text><text x="1723.16" y="1183.37" font-size="20.4" text-anchor="middle">53%</text><text x="1723.16" y="1206.47" font-size="20.4" text-anchor="middle">(11,060)</text><text x="1723.16" y="978.9" font-size="20.4" text-anchor="middle">14%</text><text x="1723.16" y="1002" font-size="20.4" text-anchor="middle">(2,948)</text><text x="1723.16" y="860.22" font-size="20.4" text-anchor="middle">25%</text><text x="1723.16" y="883.32" font-size="20.4" text-anchor="middle">(5,183)</text><text x="1723.16" y="762.61" font-size="20.4" text-anchor="middle">7%</text><text x="1723.16" y="785.71" font-size="20.4" text-anchor="middle">(1,504)</text><text x="1851.39" y="1197.6" font-size="20.4" text-anchor="middle">48%</text><text x="1851.39" y="1220.7" font-size="20.4" text-anchor="middle">(22,616)</text><text x="1851.39" y="1015.23" font-size="20.4" text-anchor="middle">12%</text><text x="1851.39" y="1038.33" font-size="20.4" text-anchor="middle">(5,404)</text><text x="1851.39" y="886.31" font-size="20.4" text-anchor="middle">31%</text><text x="1851.39" y="909.41" font-size="20.4" text-anchor="middle">(14,404)</text><text x="1851.39" y="765.47" font-size="20.4" text-anchor="middle">9%</text><text x="1851.39" y="788.57" font-size="20.4" text-anchor="middle">(4,162)</text><text x="1979.62" y="1197.37" font-size="20.4" text-anchor="middle">48%</text><text x="1979.62" y="1220.47" font-size="20.4" text-anchor="middle">(11,672)</text><text x="1979.62" y="1029.25" font-size="20.4" text-anchor="middle">7%</text><text x="1979.62" y="1052.35" font-size="20.4" text-anchor="middle">(1,638)</text><text x="1979.62" y="898.44" font-size="20.4" text-anchor="middle">36%</text><text x="1979.62" y="921.54" font-size="20.4" text-anchor="middle">(8,718)</text><text x="1979.62" y="762.89" font-size="20.4" text-anchor="middle">8%</text><text x="1979.62" y="785.99" font-size="20.4" text-anchor="middle">(2,013)</text></g><g font-family="'DejaVu Sans','Liberation Sans',sans-serif" fill="#000"><line x1="114" y1="708.2" x2="114" y2="1351.2" stroke="#000" stroke-width="2.5"/><line x1="113" y1="1350.2" x2="2051" y2="1350.2" stroke="#000" stroke-width="2.5"/><line x1="104" y1="1350.2" x2="114" y2="1350.2" stroke="#000" stroke-width="2.5"/><text x="94" y="1360.8" font-size="29" text-anchor="end">0</text><line x1="104" y1="1228" x2="114" y2="1228" stroke="#000" stroke-width="2.5"/><text x="94" y="1238.6" font-size="29" text-anchor="end">20</text><line x1="104" y1="1105.8" x2="114" y2="1105.8" stroke="#000" stroke-width="2.5"/><text x="94" y="1116.4" font-size="29" text-anchor="end">40</text><line x1="104" y1="983.6" x2="114" y2="983.6" stroke="#000" stroke-width="2.5"/><text x="94" y="994.2" font-size="29" text-anchor="end">60</text><line x1="104" y1="861.4" x2="114" y2="861.4" stroke="#000" stroke-width="2.5"/><text x="94" y="872" font-size="29" text-anchor="end">80</text><line x1="104" y1="739.2" x2="114" y2="739.2" stroke="#000" stroke-width="2.5"/><text x="94" y="749.8" font-size="29" text-anchor="end">100</text><line x1="184.4" y1="1350.2" x2="184.4" y2="1359.8" stroke="#000" stroke-width="2.5"/><text x="184.4" y="1392.8" font-size="29" text-anchor="middle">AMK</text><line x1="312.63" y1="1350.2" x2="312.63" y2="1359.8" stroke="#000" stroke-width="2.5"/><text x="312.63" y="1392.8" font-size="29" text-anchor="middle">BDQ</text><line x1="440.86" y1="1350.2" x2="440.86" y2="1359.8" stroke="#000" stroke-width="2.5"/><text x="440.86" y="1392.8" font-size="29" text-anchor="middle">CAP</text><line x1="569.09" y1="1350.2" x2="569.09" y2="1359.8" stroke="#000" stroke-width="2.5"/><text x="569.09" y="1392.8" font-size="29" text-anchor="middle">CFZ</text><line x1="697.32" y1="1350.2" x2="697.32" y2="1359.8" stroke="#000" stroke-width="2.5"/><text x="697.32" y="1392.8" font-size="29" text-anchor="middle">DLM</text><line x1="825.55" y1="1350.2" x2="825.55" y2="1359.8" stroke="#000" stroke-width="2.5"/><text x="825.55" y="1392.8" font-size="29" text-anchor="middle">EMB</text><line x1="953.78" y1="1350.2" x2="953.78" y2="1359.8" stroke="#000" stroke-width="2.5"/><text x="953.78" y="1392.8" font-size="29" text-anchor="middle">ETO</text><line x1="1082.01" y1="1350.2" x2="1082.01" y2="1359.8" stroke="#000" stroke-width="2.5"/><text x="1082.01" y="1392.8" font-size="29" text-anchor="middle">INH</text><line x1="1210.24" y1="1350.2" x2="1210.24" y2="1359.8" stroke="#000" stroke-width="2.5"/><text x="1210.24" y="1392.8" font-size="29" text-anchor="middle">KAN</text><line x1="1338.47" y1="1350.2" x2="1338.47" y2="1359.8" stroke="#000" stroke-width="2.5"/><text x="1338.47" y="1392.8" font-size="29" text-anchor="middle">LFX</text><line x1="1466.7" y1="1350.2" x2="1466.7" y2="1359.8" stroke="#000" stroke-width="2.5"/><text x="1466.7" y="1392.8" font-size="29" text-anchor="middle">LZD</text><line x1="1594.93" y1="1350.2" x2="1594.93" y2="1359.8" stroke="#000" stroke-width="2.5"/><text x="1594.93" y="1392.8" font-size="29" text-anchor="middle">MXF</text><line x1="1723.16" y1="1350.2" x2="1723.16" y2="1359.8" stroke="#000" stroke-width="2.5"/><text x="1723.16" y="1392.8" font-size="29" text-anchor="middle">PZA</text><line x1="1851.39" y1="1350.2" x2="1851.39" y2="1359.8" stroke="#000" stroke-width="2.5"/><text x="1851.39" y="1392.8" font-size="29" text-anchor="middle">RIF</text><line x1="1979.62" y1="1350.2" x2="1979.62" y2="1359.8" stroke="#000" stroke-width="2.5"/><text x="1979.62" y="1392.8" font-size="29" text-anchor="middle">STM</text><text transform="translate(21.3,1029) rotate(-90)" font-size="29.2" text-anchor="middle">Percentage</text><text transform="translate(3.76,698.9) scale(1.03,1)" font-size="42.4" font-weight="bold" style="font-family:'Liberation Sans',Arial,sans-serif">b</text></g><g font-family="'DejaVu Sans','Liberation Sans',sans-serif" fill="#000"><rect x="708.6" y="1426.6" width="651.8" height="76.7" rx="5" ry="5" fill="#fff" fill-opacity="0.8" stroke="#d4d4d4" stroke-width="2.6"/><text x="1034.9" y="1455.8" font-size="26.1" text-anchor="middle">Lineage</text><rect x="718.05" y="1473.15" width="46" height="16.3" fill="#f7a1c8" stroke="#3f3f3f" stroke-width="2.6"/><text x="782.76" y="1489.5" font-size="23.4" text-anchor="start">1</text><rect x="844.15" y="1473.15" width="46" height="16.3" fill="#4191cb" stroke="#3f3f3f" stroke-width="2.6"/><text x="908.26" y="1489.5" font-size="23.4" text-anchor="start">2</text><rect x="969.55" y="1473.15" width="46" height="16.3" fill="#b685c0" stroke="#3f3f3f" stroke-width="2.6"/><text x="1034.06" y="1489.5" font-size="23.4" text-anchor="start">3</text><rect x="1095.65" y="1473.15" width="46" height="16.3" fill="#f87762" stroke="#3f3f3f" stroke-width="2.6"/><text x="1159.86" y="1489.5" font-size="23.4" text-anchor="start">4</text><rect x="1221.45" y="1473.15" width="46" height="16.3" fill="#ffffff" stroke="#3f3f3f" stroke-width="2.6"/><text x="1285.66" y="1489.5" font-size="23.4" text-anchor="start">Other</text></g></svg></body></html>
